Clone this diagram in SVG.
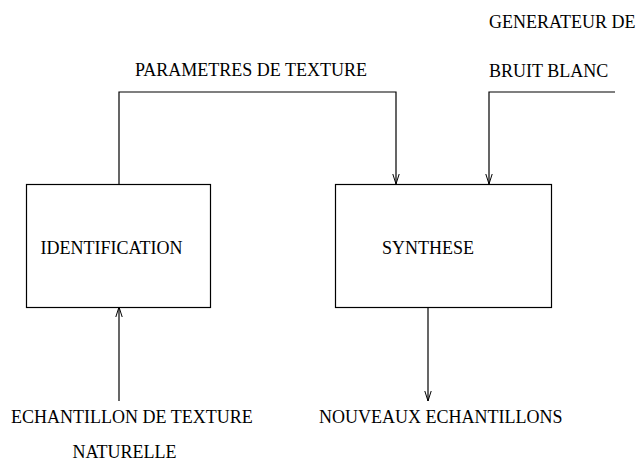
<svg xmlns="http://www.w3.org/2000/svg" width="639" height="462" viewBox="0 0 639 462">
<defs>
<marker id="arr" viewBox="0 0 10 8" refX="10" refY="4" markerWidth="10" markerHeight="8" markerUnits="userSpaceOnUse" orient="auto">
<path d="M0,0.8 L10,4 L0,7.2" fill="none" stroke="#000" stroke-width="1"/>
</marker>
</defs>
<style>
text{font-family:"Liberation Serif","Times New Roman",serif;font-size:18px;fill:#000}
.box{fill:#fff;stroke:#000;stroke-width:1.2}
.ln{fill:none;stroke:#000;stroke-width:1.2}
</style>
<rect width="639" height="462" fill="#fff"/>
<g id="connectors">
<path class="ln" d="M119,184 V92 H396 V184" marker-end="url(#arr)"/>
<path class="ln" d="M615,92 H489 V184" marker-end="url(#arr)"/>
<path class="ln" d="M119,401 V307" marker-end="url(#arr)"/>
<path class="ln" d="M428,307 V401" marker-end="url(#arr)"/>
</g>
<g id="identification">
<rect class="box" x="26.5" y="184.5" width="184" height="123"/>
<text x="40.5" y="253.5">IDENTIFICATION</text>
</g>
<g id="synthese">
<rect class="box" x="335.5" y="184.5" width="216" height="123"/>
<text x="382" y="254">SYNTHESE</text>
</g>
<g id="labels">
<text x="135" y="76">PARAMETRES DE TEXTURE</text>
<text x="489" y="28">GENERATEUR DE</text>
<text x="489" y="77">BRUIT BLANC</text>
<text x="11" y="422.5">ECHANTILLON DE TEXTURE</text>
<text x="72.5" y="458">NATURELLE</text>
<text x="319" y="422.5">NOUVEAUX ECHANTILLONS</text>
</g>
</svg>
